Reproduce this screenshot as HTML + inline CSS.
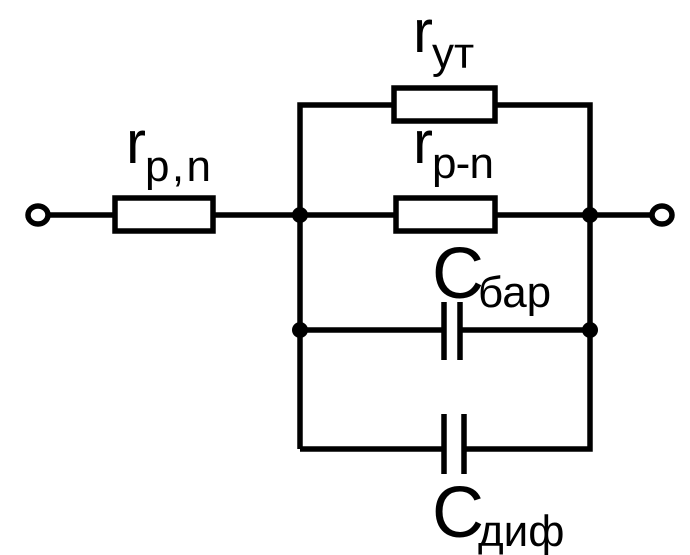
<!DOCTYPE html>
<html><head><meta charset="utf-8"><style>
html,body{margin:0;padding:0;background:#fff;}
svg{display:block;}
text{font-family:"Liberation Sans","DejaVu Sans",sans-serif;fill:#000;}
</style></head><body>
<svg width="690" height="555" viewBox="0 0 690 555" xmlns="http://www.w3.org/2000/svg">
<g stroke="#000" stroke-width="5.5" fill="none">
  <ellipse cx="38" cy="215" rx="10" ry="9" fill="#fff"/>
  <line x1="48" y1="215" x2="115" y2="215"/>
  <rect x="115" y="198" width="98" height="33" fill="#fff"/>
  <line x1="213" y1="215" x2="396" y2="215"/>
  <polyline points="300,449 300,105 394,105"/>
  <rect x="394" y="88" width="101" height="33" fill="#fff"/>
  <polyline points="495,105 590,105 590,449 465,449"/>
  <rect x="396" y="198" width="99" height="33" fill="#fff"/>
  <line x1="495" y1="215" x2="652" y2="215"/>
  <ellipse cx="662" cy="215" rx="10" ry="9" fill="#fff"/>
  <line x1="300" y1="330" x2="444" y2="330"/>
  <line x1="460" y1="330" x2="590" y2="330"/>
  <line x1="444" y1="302" x2="444" y2="360"/>
  <line x1="460" y1="302" x2="460" y2="360"/>
  <line x1="300" y1="449" x2="444" y2="449"/>
  <line x1="444" y1="414" x2="444" y2="474"/>
  <line x1="464" y1="414" x2="464" y2="474"/>
</g>
<g fill="#000">
  <circle cx="300" cy="215" r="8"/>
  <circle cx="590" cy="215" r="8"/>
  <circle cx="300" cy="330" r="8"/>
  <circle cx="590" cy="330" r="8"/>
</g>
<text x="126" y="163" font-size="60">r</text>
<text x="145" y="181" font-size="44" textLength="66">p,n</text>
<text x="413" y="52" font-size="60">r</text>
<text x="432" y="68" font-size="44">ут</text>
<text x="413" y="163" font-size="60">r</text>
<text x="432" y="178" font-size="44" textLength="62">p-n</text>
<text x="432" y="298" font-size="72">C</text>
<text x="478" y="307" font-size="44">бар</text>
<text x="432" y="537" font-size="72">C</text>
<text x="478" y="546" font-size="44">диф</text>
</svg>
</body></html>
